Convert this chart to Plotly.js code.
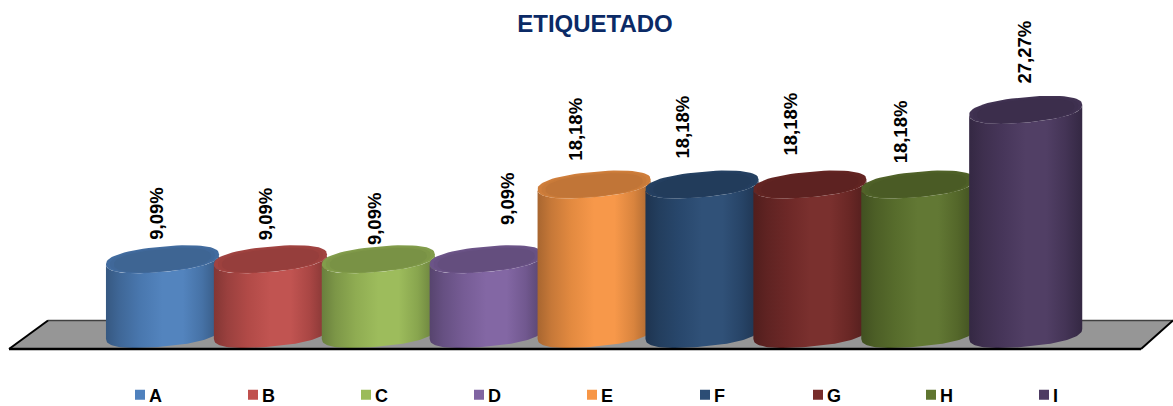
<!DOCTYPE html>
<html><head><meta charset="utf-8">
<script src="https://cdn.plot.ly/plotly-3.0.1.min.js"></script>
<style>html,body{margin:0;padding:0;background:#fff}#c{width:1173px;height:406px}</style>
</head><body><div id="c"></div>
<script>
const categories = ['A','B','C','D','E','F','G','H','I'];
const values = [9.09,9.09,9.09,9.09,18.18,18.18,18.18,18.18,27.27];
const colors = ['#4F81BD','#C0504D','#9BBB59','#8064A2','#F79646','#2C4D75','#772C2A','#5F7530','#4D3B62'];
const labelDx = [-6,-5.5,-4.5,21.5,-19.5,-19.5,-19.5,-17.5,-1.5];
const labelDy = [17,17,12,32,22,24,27,19,24];

const W=1173,H=406, PX=107.9, X0=162.5, PY=8.22, Y0=334;
const halfW=0.524, halfH=12.7/PY, tilt=5/PY, ROUND=0.86;
function shade(hex,f){
  const n=parseInt(hex.slice(1),16);
  const c=[n>>16,(n>>8)&255,n&255].map(v=>Math.round(f>1?v+(255-v)*(f-1):v*f));
  return `rgb(${c[0]},${c[1]},${c[2]})`;
}
const sp=v=>Math.sign(v)*Math.pow(Math.abs(v),ROUND);
function rim(i,y,from,to,a=halfW,b=halfH,k=tilt){
  const xs=[],ys=[],N=64;
  for(let j=0;j<=N;j++){const t=from+(to-from)*j/N;
    const c=sp(Math.cos(t)), s=sp(Math.sin(t));
    xs.push(i+a*c); ys.push(y+b*s+k*c);}
  return [xs,ys];
}
const traces=[];
categories.forEach((c,i)=>traces.push({type:'scatter',mode:'markers',name:c,x:[i],y:[values[i]],
  marker:{symbol:'square',size:10,color:colors[i]},hoverinfo:'skip'}));
categories.forEach((c,i)=>{
  const v=values[i], col=colors[i];
  const [bx,by]=rim(i,0,Math.PI,2*Math.PI);
  const [tx,ty]=rim(i,v,2*Math.PI,Math.PI);
  traces.push({type:'scatter',mode:'lines',x:bx.concat(tx,[bx[0]]),y:by.concat(ty,[by[0]]),
    fill:'toself',line:{width:0,color:col},showlegend:false,hoverinfo:'skip',
    fillgradient:{type:'horizontal',colorscale:[[0,shade(col,.68)],[.12,shade(col,.8)],[.3,shade(col,.92)],[.5,shade(col,1.02)],[.68,shade(col,1.02)],[.85,shade(col,.88)],[1,shade(col,.68)]]}});
  [[1,.84],[.93,.81],[.86,.78]].forEach(([s,f])=>{
    const [ex,ey]=rim(i,v-(1-s)*.7,0,2*Math.PI,halfW*s,halfH*s,tilt*s);
    traces.push({type:'scatter',mode:'lines',x:ex,y:ey,fill:'toself',line:{width:0,color:col},showlegend:false,hoverinfo:'skip',
      fillcolor:shade(col,f)});
  });
});
const annotations=categories.map((c,i)=>({x:i,y:values[i],xref:'x',yref:'y',showarrow:false,textangle:-90,
  xanchor:'center',yanchor:'bottom',xshift:labelDx[i],yshift:labelDy[i],
  text:values[i].toFixed(2).replace('.',',')+'%',
  font:{family:'"Liberation Sans",Arial,sans-serif',size:18.5,color:'#000',weight:'bold'}}));
const px=p=>p/W, py=p=>1-p/H;
const layout={width:W,height:H,margin:{l:0,r:0,t:0,b:0,autoexpand:false},paper_bgcolor:'#fff',plot_bgcolor:'#fff',
  title:{text:'ETIQUETADO',x:595/W,xanchor:'center',y:1-24/H,yanchor:'middle',
    font:{family:'"Liberation Sans",Arial,sans-serif',size:24,color:'#0B2A66',weight:'bold'}},
  xaxis:{range:[-X0/PX,(W-X0)/PX],visible:false,fixedrange:true},
  yaxis:{range:[(Y0-H)/PY,Y0/PY],visible:false,fixedrange:true},
  shapes:[
    {type:'path',xref:'paper',yref:'paper',layer:'below',
     path:`M ${px(9)} ${py(349)} L ${px(48)} ${py(320.5)} L ${px(1173)} ${py(320.5)} L ${px(1141)} ${py(349)} Z`,
     fillcolor:'#969696',line:{width:0}},
    {type:'line',xref:'paper',yref:'paper',layer:'below',x0:px(48),x1:px(1173),y0:py(320.5),y1:py(320.5),line:{color:'#404040',width:1.5}},
    {type:'line',xref:'paper',yref:'paper',layer:'below',x0:px(9),x1:px(48),y0:py(349),y1:py(320.5),line:{color:'#000',width:2}},
    {type:'line',xref:'paper',yref:'paper',layer:'below',x0:px(1141),x1:px(1173),y0:py(349),y1:py(320.5),line:{color:'#000',width:2}},
    {type:'line',xref:'paper',yref:'paper',layer:'above',x0:px(9),x1:px(1141),y0:py(349),y1:py(349),line:{color:'#000',width:2.5}}
  ],
  annotations,
  showlegend:true,
  legend:{orientation:'h',x:120/W,xanchor:'left',y:1-390/H,yanchor:'middle',bgcolor:'rgba(0,0,0,0)',
    entrywidth:68,entrywidthmode:'pixels',itemwidth:30,itemclick:false,itemdoubleclick:false,traceorder:'normal',
    font:{family:'"Liberation Sans",Arial,sans-serif',size:18,color:'#000',weight:'bold'}}
};
Plotly.newPlot('c',traces,layout,{displayModeBar:false,staticPlot:true}).then(gd=>{
  gd.querySelectorAll('.legend .legendtext').forEach(t=>t.setAttribute('x','29'));
  const g=gd.querySelector('.legend');
  const m=/translate\(([-\d.]+)[ ,]+([-\d.]+)\)/.exec(g.getAttribute('transform'));
  if(m) g.setAttribute('transform',`translate(${m[1]},${+m[2]+5})`);
});
</script></body></html>
